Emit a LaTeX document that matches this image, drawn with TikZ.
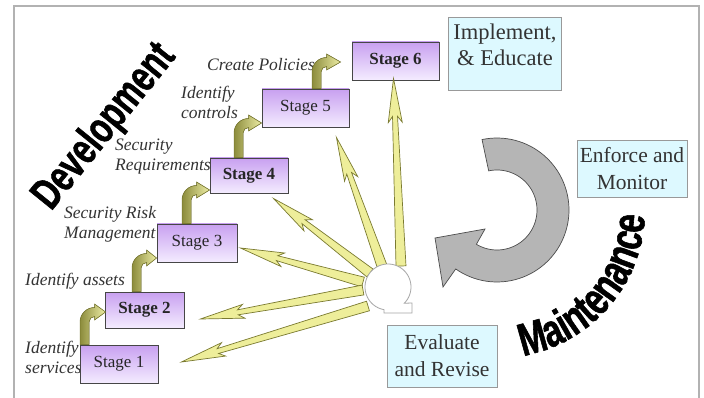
\documentclass[tikz,border=0pt]{standalone}
\usepackage{fontspec}
\setmainfont{Liberation Serif}
\newfontfamily\impactfont[FakeStretch=0.72,FakeBold=1.2]{Liberation Sans}
\usetikzlibrary{calc,decorations.text}
\definecolor{stagetop}{HTML}{C8A0F0}
\definecolor{stagebot}{HTML}{F4ECFF}
\definecolor{cyanfill}{HTML}{DDF9FF}
\definecolor{yfill}{HTML}{EEEE9A}
\definecolor{yline}{HTML}{7A7A30}
\definecolor{olivedark}{HTML}{8C8C3C}
\definecolor{olivelight}{HTML}{EDEDA5}
\definecolor{greyarr}{HTML}{B5B5B5}
\newcommand\devfmt{\impactfont\bfseries\fontsize{44}{44}\selectfont}
\newcommand\mntfmt{\impactfont\bfseries\fontsize{46}{46}\selectfont}
\newcommand\yarr[2]{%
  \path ($(#2)!44pt!(#1)$) coordinate (hb) ($(#2)!38pt!(#1)$) coordinate (hj);
  \filldraw[yarrow] ($(#1)!5pt!90:(#2)$) -- ($(hj)!2.5pt!90:(#2)$) -- ($(hb)!7pt!90:(#2)$) -- (#2)
    -- ($(hb)!7pt!-90:(#2)$) -- ($(hj)!2.5pt!-90:(#2)$) -- ($(#1)!5pt!-90:(#2)$) -- cycle;}
\newcommand\bentarr[2]{%
  \filldraw[bentarrow] let \p1=(#1), \p2=(#2) in
    (\x1-4.5pt,\y1) -- (\x1-4.5pt,\y2-10pt) arc[start angle=180,end angle=90,radius=14.5pt]
    -- (\x1+10pt,\y2+8pt) -- (\x2,\y2) -- (\x1+10pt,\y2-8pt) -- (\x1+10pt,\y2-4.5pt)
    arc[start angle=90,end angle=180,radius=5.5pt] -- (\x1+4.5pt,\y1) -- cycle;}
\tikzset{
  stagebox/.style={draw=gray!55!black, line width=0.9pt, top color=stagetop, bottom color=stagebot,
    inner sep=0pt, font=\fontsize{17}{20}\selectfont, text=black!85},
  cbox/.style={draw=gray!80, line width=0.8pt, fill=cyanfill, align=center, inner sep=0pt,
    font=\fontsize{21.5}{27}\selectfont, text=black!80},
  lbl/.style={font=\itshape\fontsize{17.5}{20}\selectfont, inner sep=0pt, text=black!80, align=left, anchor=west},
  yarrow/.style={fill=yfill, draw=yline, line width=0.7pt},
  bentarrow/.style={left color=olivedark, right color=olivelight, draw=yline, line width=0.6pt},
  greyarrow/.style={fill=greyarr, draw=gray!60!black, line width=0.7pt}
}
\begin{document}
\begin{tikzpicture}[x=1pt,y=-1pt]
\useasboundingbox (0,0) rectangle (704,398);
\fill[white] (0,0) rectangle (704,398);
\draw[gray!60, line width=1.3pt] (14,402) -- (14,6) -- (699,6) -- (699,402);

% side labels
\node[lbl] (tcp) at (207,65) {Create Policies};
\node[lbl] (tic) at (181,102) {Identify\\controls};
\node[lbl] (tsr) at (115,157) {Security\\Requirements};
\node[lbl] (tsrm) at (64,224) {Security Risk\\Management};
\node[lbl] (tia) at (25,281) {Identify assets};
\node[lbl] (tis) at (25,357) {Identify\\services};

% stages
\node[stagebox, minimum width=78pt, minimum height=38pt] (s1) at (119,364) {Stage 1};
\node[stagebox, minimum width=79pt, minimum height=36pt] (s2) at (144.5,310) {\bfseries Stage 2};
\node[stagebox, minimum width=80pt, minimum height=38pt] (s3) at (197,243) {Stage 3};
\node[stagebox, minimum width=78pt, minimum height=35pt] (s4) at (249,175.5) {\bfseries Stage 4};
\node[stagebox, minimum width=87pt, minimum height=38pt] (s5) at (305.5,108) {Stage 5};
\node[stagebox, minimum width=87pt, minimum height=38pt] (s6) at (395.5,61) {\bfseries Stage 6};

% bent arrows between stages
\bentarr{$(s1.north west)+(5,0)$}{$(s2.west)+(1,2)$}
\bentarr{$(s2.north west)+(32,0)$}{$(s3.west)+(0,15)$}
\bentarr{$(s3.north west)+(30,0)$}{$(s4.west)+(0,14.5)$}
\bentarr{$(s4.north west)+(29,0)$}{$(s5.west)+(0,15)$}
\bentarr{$(s5.north west)+(55,0)$}{$(s6.west)+(-11,1)$}

% hub and radiating arrows
\coordinate (hub) at (388,287);
\coordinate (b6) at ($(hub)+(13,-21)$);
\coordinate (b5) at ($(hub)+(-6,-21)$);
\coordinate (b4) at ($(hub)+(-18,-14)$);
\coordinate (b3) at ($(hub)+(-25,-5)$);
\coordinate (b2) at ($(hub)+(-25,3)$);
\coordinate (b1) at ($(hub)+(-20,19)$);
\coordinate (t6) at ($(s6.south)+(-2,-2)$);
\coordinate (t5) at ($(s5.south east)+(-13,10)$);
\coordinate (t4) at ($(s4.south east)+(-15,5)$);
\coordinate (t3) at ($(s3.east)+(3,5)$);
\coordinate (t2) at ($(s2.east)+(16,9)$);
\coordinate (t1) at ($(s1.east)+(23,-2)$);
\yarr{b6}{t6}
\yarr{b5}{t5}
\yarr{b4}{t4}
\yarr{b3}{t3}
\yarr{b2}{t2}
\yarr{b1}{t1}
\filldraw[fill=white, draw=gray!70, line width=0.8pt]
  plot[domain=45:-260,samples=60] ({388+23*cos(\x)},{287+23*sin(\x)})
  -- (384,313) -- (412,313) -- (412,303) -- cycle;

% grey cycle arrow
\filldraw[greyarrow]
  plot[domain=-102:125,samples=70] ({497+72*cos(\x)},{210+72*sin(\x)})
  -- (443,287) -- (435,238) -- (485,229)
  -- plot[domain=121:-102,samples=70] ({497+40*cos(\x)},{210+40*sin(\x)}) -- cycle;

% boxes
\node[cbox, minimum width=113pt, minimum height=73pt] (impl) at (504.5,53.5) {};
\node[cbox, draw=none, fill=none, font=\fontsize{22.5}{26}\selectfont] (implt) at (505,45) {Implement,\\\& Educate};
\node[cbox, minimum width=110pt, minimum height=57pt] (enf) at (632,168.5) {Enforce and\\Monitor};
\node[cbox, minimum width=110pt, minimum height=62pt] (eval) at (442,356) {Evaluate\\and Revise};

% big words
\node[rotate=51, font=\devfmt, inner sep=0pt] (dev) at (105,127) {Development};
\path[decorate, decoration={text along path, text align=center,
  text={|\mntfmt|Maintenance}}]
  plot[domain=82:0,samples=60] ({497+148*cos(\x)},{210+148*sin(\x)});
\end{tikzpicture}
\end{document}
